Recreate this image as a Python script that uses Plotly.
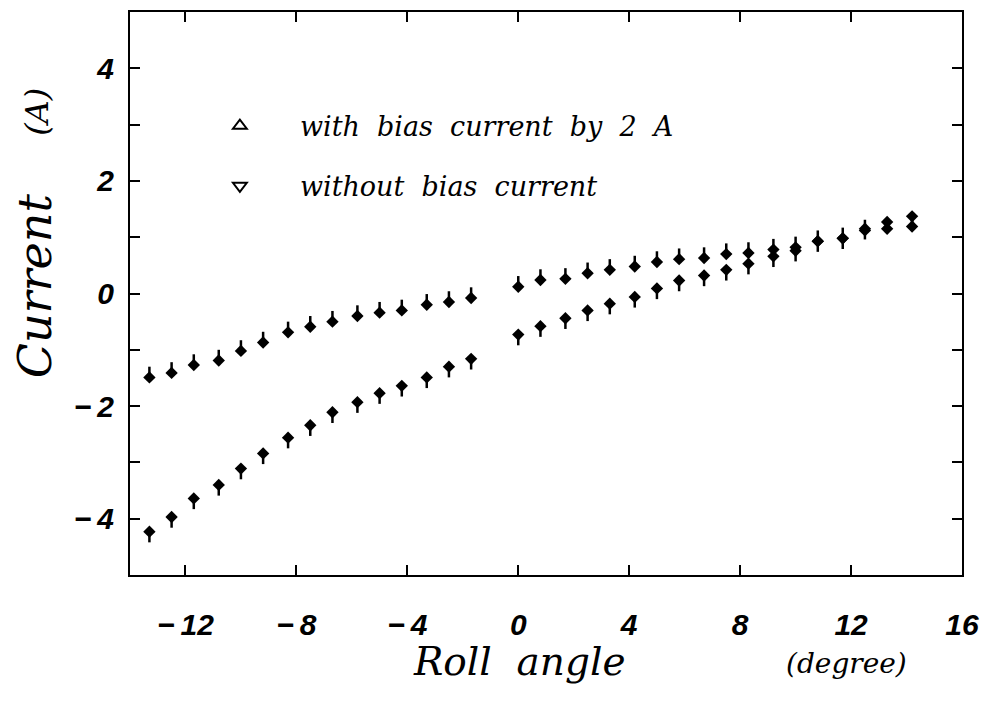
import plotly.graph_objects as go

# ---- data ----
roll_angle = [-13.3, -12.5, -11.7, -10.8, -10.0, -9.2, -8.3, -7.5, -6.7, -5.8, -5.0, -4.2, -3.3, -2.5, -1.7,
              0.0, 0.8, 1.7, 2.5, 3.3, 4.2, 5.0, 5.8, 6.7, 7.5, 8.3, 9.2, 10.0, 10.8, 11.7, 12.5, 13.3, 14.2]
current_with_bias = [-4.23, -3.97, -3.64, -3.40, -3.11, -2.84, -2.56, -2.34, -2.11, -1.93, -1.77, -1.64, -1.49, -1.30, -1.16,
                     -0.73, -0.58, -0.44, -0.30, -0.18, -0.06, 0.09, 0.23, 0.32, 0.42, 0.53, 0.66, 0.76, 0.93, 0.98, 1.15, 1.27, 1.37]
current_without_bias = [-1.49, -1.41, -1.27, -1.19, -1.02, -0.87, -0.69, -0.59, -0.50, -0.40, -0.34, -0.30, -0.20, -0.15, -0.08,
                        0.12, 0.24, 0.26, 0.36, 0.42, 0.48, 0.56, 0.61, 0.63, 0.70, 0.72, 0.78, 0.82, 0.93, 0.98, 1.12, 1.15, 1.19]

series_names = ["with\u00a0 bias\u00a0 current\u00a0 by\u00a0 2\u00a0 A",
                "without\u00a0 bias\u00a0 current"]

x_tickvals = [-12, -8, -4, 0, 4, 8, 12, 16]
x_ticktext = ["\u2212\u200912", "\u2212\u20098", "\u2212\u20094", "0", "4", "8", "12", "16"]
y_tickvals = [-4, -2, 0, 2, 4]
y_ticktext = ["\u2212\u20094", "\u2212\u20092", "0", "2", "4"]

STEM = 0.19  # arrow stem length (style)

fig = go.Figure()

# with bias: diamond head, stem below (up arrow)
fig.add_trace(go.Scatter(
    x=roll_angle, y=current_with_bias, mode="markers", showlegend=False,
    marker=dict(symbol="diamond", size=9.5, color="black"),
    error_y=dict(type="data", symmetric=False, array=[0] * len(roll_angle),
                 arrayminus=[STEM] * len(roll_angle), width=0, thickness=2.5, color="black"),
))
# without bias: diamond head, stem above (down arrow)
fig.add_trace(go.Scatter(
    x=roll_angle, y=current_without_bias, mode="markers", showlegend=False,
    marker=dict(symbol="diamond", size=9.5, color="black"),
    error_y=dict(type="data", symmetric=False, array=[STEM] * len(roll_angle),
                 arrayminus=[0] * len(roll_angle), width=0, thickness=2.5, color="black"),
))

# legend entries
fig.add_trace(go.Scatter(x=[None], y=[None], mode="markers", name=series_names[0], legendgroup="a",
                         marker=dict(symbol="triangle-up-open", size=12, color="black", line=dict(width=2, color="black"))))
fig.add_trace(go.Scatter(x=[None], y=[None], mode="markers", name=series_names[1], legendgroup="b",
                         marker=dict(symbol="triangle-down-open", size=12, color="black", line=dict(width=2, color="black"))))

axis_common = dict(showline=True, linecolor="black", linewidth=2, mirror="ticks",
                   ticks="inside", ticklen=10, tickwidth=2, tickcolor="black",
                   showgrid=False, zeroline=False,
                   tickfont=dict(family="Liberation Sans", size=30, color="black", style="italic", weight="bold"))

fig.update_xaxes(range=[-14, 16], tickvals=x_tickvals, ticktext=x_ticktext, ticklabelstandoff=22, **axis_common)
fig.update_yaxes(range=[-5, 5], tickvals=y_tickvals, ticktext=y_ticktext, ticklabelstandoff=8,
                 minor=dict(dtick=1, tick0=0, ticks="inside", ticklen=10, tickwidth=2, tickcolor="black"),
                 **axis_common)

title_font = dict(family="DejaVu Serif", color="black", style="italic")
annotations = [
    dict(text="Roll\u00a0 angle", x=(520 - 130) / 834, y=(575 - 662) / 565, font=dict(size=39, **title_font)),
    dict(text="(degree)", x=(848 - 130) / 834, y=(575 - 664) / 565, font=dict(size=28, **title_font)),
    dict(text="Current", x=(35 - 130) / 834, y=(575 - 285) / 565, textangle=-90, font=dict(size=46, **title_font)),
    dict(text="(A)", x=(36 - 130) / 834, y=(575 - 110) / 565, textangle=-90, font=dict(size=32, **title_font)),
]
for a in annotations:
    a.update(xref="paper", yref="paper", showarrow=False, xanchor="center", yanchor="middle")

fig.update_layout(
    width=989, height=702,
    margin=dict(l=130, r=25, t=10, b=127),
    paper_bgcolor="white", plot_bgcolor="white",
    annotations=annotations,
    showlegend=True,
    legend=dict(x=(180 - 130) / 834, y=(575 - 100) / 565, xanchor="left", yanchor="top",
                bgcolor="rgba(0,0,0,0)", traceorder="grouped", tracegroupgap=22, itemwidth=110,
                font=dict(family="DejaVu Serif", size=27, color="black", style="italic")),
)

fig.write_html("out.html")
